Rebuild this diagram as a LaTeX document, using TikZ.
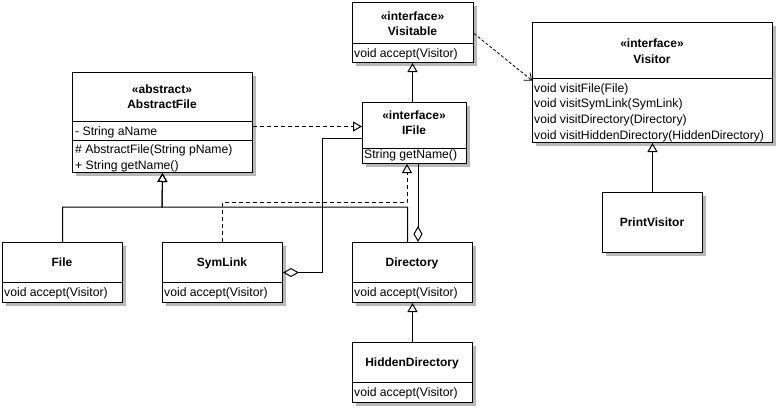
\documentclass[tikz,border=0pt]{standalone}
\usepackage{fontspec}
\setmainfont{Liberation Sans}
\usetikzlibrary{arrows.meta,calc}
\newcommand\umlbox[5]{%
  \draw[shd] ({#2+#4+2},{#3+4}) -- ({#2+#4+2},{#3+#5+2}) -- ({#2+4},{#3+#5+2});
  \node[cls, minimum width=#4pt, minimum height=#5pt] (#1) at (#2,#3) {};}
\begin{document}
\begin{tikzpicture}[x=1pt,y=-1pt,
  cls/.style={draw, line width=1pt, fill=white, anchor=north west, inner sep=0pt},
  shd/.style={draw=black!28, line width=4pt, line join=miter, line cap=butt},
  ttl/.style={font=\fontsize{12}{14}\selectfont\bfseries, inner sep=0pt, anchor=base},
  mem/.style={font=\fontsize{12.2}{14}\selectfont, inner sep=0pt, anchor=base west},
  sep/.style={line width=1pt},
  gen/.style={line width=1pt, -{Triangle[open,length=9pt,width=10pt,line width=1pt]}},
  real/.style={line width=1pt, dash pattern=on 4pt off 3pt, -{Triangle[open,length=9pt,width=10pt,line width=1pt]}},
  agg/.style={line width=1pt, -{Diamond[open,length=16pt,width=9pt,line width=1pt]}},
  dep/.style={line width=0.8pt, dash pattern=on 3pt off 2pt, -{Straight Barb[length=6pt,width=10pt]}}
]
\useasboundingbox (0,0) rectangle (778,408);

% ---- classes ----
% AbstractFile
\umlbox{af}{72}{72}{180}{100}
\draw[sep] (72,121) -- (252,121);
\draw[sep] (72,140) -- (252,140);
\node[ttl] (afs) at (162,93) {«abstract»};
\node[ttl] (afn) at (162,108) {AbstractFile};
\node[mem] (afa) at (75,135) {- String aName};
\node[mem] (afm1) at (75,153) {\# AbstractFile(String pName)};
\node[mem] (afm2) at (75,169) {+ String getName()};

% Visitable
\umlbox{vis}{352}{2}{121}{60}
\draw[sep] (352,43) -- (473,43);
\node[ttl] (viss) at (412.5,20) {«interface»};
\node[ttl] (visn) at (412.5,35) {Visitable};
\node[mem] (vism) at (354,57) {void accept(Visitor)};

% IFile
\umlbox{ifile}{362}{102}{104}{61}
\draw[sep] (362,148) -- (466,148);
\node[ttl] (ifs) at (414,119) {«interface»};
\node[ttl] (ifn) at (414,134) {IFile};
\node[mem] (ifm) at (364,158) {String getName()};

% Visitor
\umlbox{visitor}{532}{22}{240}{120}
\draw[sep] (532,78) -- (772,78);
\node[ttl] (vrs) at (652,47) {«interface»};
\node[ttl] (vrn) at (652,63) {Visitor};
\node[mem] (vr1) at (534,92) {void visitFile(File)};
\node[mem] (vr2) at (534,107) {void visitSymLink(SymLink)};
\node[mem] (vr3) at (534,123) {void visitDirectory(Directory)};
\node[mem] (vr4) at (534,139) {void visitHiddenDirectory(HiddenDirectory)};

% PrintVisitor
\umlbox{pv}{602}{192}{100}{60}
\node[ttl] (pvn) at (652,226) {PrintVisitor};

% File
\umlbox{file}{2}{242}{120}{60}
\draw[sep] (2,282) -- (122,282);
\node[ttl] (fn) at (62,266) {File};
\node[mem] (fm) at (4,296) {void accept(Visitor)};

% SymLink
\umlbox{sym}{162}{242}{120}{60}
\draw[sep] (162,282) -- (282,282);
\node[ttl] (sn) at (222,266) {SymLink};
\node[mem] (sm) at (164,296) {void accept(Visitor)};

% Directory
\umlbox{dir}{352}{242}{120}{60}
\draw[sep] (352,282) -- (472,282);
\node[ttl] (dn) at (412,266) {Directory};
\node[mem] (dm) at (354,296) {void accept(Visitor)};

% HiddenDirectory
\umlbox{hid}{352}{342}{120}{60}
\draw[sep] (352,382) -- (472,382);
\node[ttl] (hn) at (412,366) {HiddenDirectory};
\node[mem] (hm) at (354,396) {void accept(Visitor)};

% ---- connectors ----
\coordinate (j1) at (162,207);
\draw[gen] (file.north) |- (j1) -- (af.south);
\draw[gen] ([xshift=-5pt]dir.north) |- (j1) -- (af.south);

\coordinate (k) at (407,202);
\draw[real] (sym.north) |- (k) -- (k |- ifile.south);

\coordinate (p) at ([yshift=-4pt]af.east);
\draw[real] (p) -- (p -| ifile.west);

\coordinate (m) at (322,138);
\draw[agg] (ifile.west |- m) -- (m) |- (sym.east);

\coordinate (q) at (418,163);
\draw[agg] (q) -- (q |- dir.north);

\draw[gen] ([xshift=-2pt]ifile.north) -- ([xshift=-2pt]ifile.north |- vis.south);

\draw[dep] ([yshift=-1pt]vis.east) -- ([yshift=2pt]visitor.west);

\draw[gen] (pv.north) -- (visitor.south);
\draw[gen] (hid.north) -- (dir.south);
\end{tikzpicture}
\end{document}
